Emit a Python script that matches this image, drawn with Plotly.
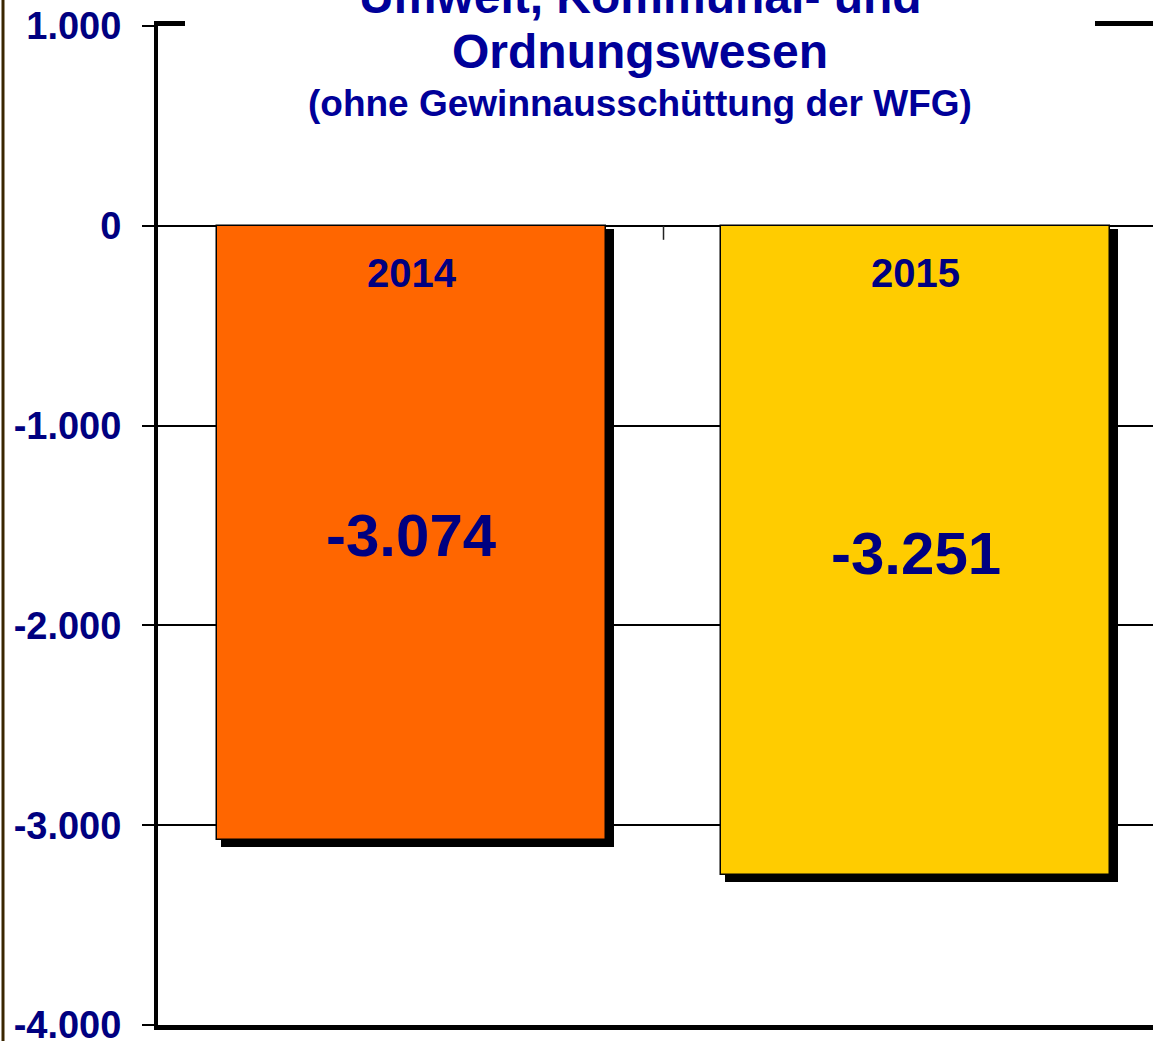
import plotly.graph_objects as go

# ---- data ----
categories = ["2014", "2015"]
values = [-3074, -3251]
bar_colors = ["#FF6600", "#FFCC00"]
tick_values = [1000, 0, -1000, -2000, -3000, -4000]
tick_labels = ["1.000", "0", "-1.000", "-2.000", "-3.000", "-4.000"]
title_lines = ["Umwelt, Kommunal- und", "Ordnungswesen"]
subtitle = "(ohne Gewinnausschüttung der WFG)"

NAVY = "#000080"
TITLE_BLUE = "#000099"
FONT = "Liberation Sans, Arial, sans-serif"

W, H = 1153, 1041
ML, MT, MB = 158, 26, 16
plot_w = W - ML
plot_h = H - MT - MB
cat_px = 504.0
x_range = [-0.503, -0.503 + plot_w / cat_px]
y_range = [-4000, 1000]
units_per_px = (y_range[1] - y_range[0]) / plot_h

xs = list(range(len(categories)))
bar_w = 0.77


def fmt(v):
    s = f"{abs(v):,}".replace(",", ".")
    return ("-" if v < 0 else "") + s


def px_to_paper_y(py):
    return (H - MB - py) / plot_h


def px_to_paper_x(px):
    return (px - ML) / plot_w


fig = go.Figure()

# shadow bars
fig.add_trace(go.Bar(
    x=xs, y=[v - 4 * units_per_px for v in values],
    base=-3 * units_per_px,
    width=bar_w + 4 / cat_px,
    offset=-bar_w / 2 + 4 / cat_px,
    marker=dict(color="black", line=dict(width=0)),
    hoverinfo="skip", showlegend=False,
))
# main bars
fig.add_trace(go.Bar(
    x=xs, y=values,
    width=bar_w,
    marker=dict(color=bar_colors, line=dict(color="black", width=1.5)),
    showlegend=False,
))

# category labels inside bar top
for xi, c in zip(xs, categories):
    fig.add_annotation(x=xi, y=-47 * units_per_px, text=f"<b>{c}</b>",
                       showarrow=False, yanchor="middle",
                       font=dict(family=FONT, size=40, color=NAVY))
# value labels in bar middle
for xi, v in zip(xs, values):
    fig.add_annotation(x=xi, y=v / 2 - 3 * units_per_px, text=f"<b>{fmt(v)}</b>",
                       showarrow=False, yanchor="middle",
                       font=dict(family=FONT, size=60, color=NAVY))

# title
cx = px_to_paper_x(640)
fig.add_annotation(xref="paper", yref="paper", x=cx, y=px_to_paper_y(-4),
                   text=f"<b>{title_lines[0]}</b>", showarrow=False,
                   xanchor="center", yanchor="middle",
                   font=dict(family=FONT, size=48, color=TITLE_BLUE))
fig.add_annotation(xref="paper", yref="paper", x=cx, y=px_to_paper_y(52),
                   text=f"<b>{title_lines[1]}</b>", showarrow=False,
                   xanchor="center", yanchor="middle",
                   font=dict(family=FONT, size=48, color=TITLE_BLUE))
fig.add_annotation(xref="paper", yref="paper", x=cx, y=px_to_paper_y(103),
                   text=f"<b>{subtitle}</b>", showarrow=False,
                   xanchor="center", yanchor="middle",
                   font=dict(family=FONT, size=37, color=TITLE_BLUE))

shapes = [
    # white box behind title, interrupting the top frame line
    dict(type="rect", xref="paper", yref="paper", layer="above",
         x0=px_to_paper_x(185), x1=px_to_paper_x(1095),
         y0=px_to_paper_y(34), y1=px_to_paper_y(0),
         fillcolor="white", line=dict(width=0)),
    # category divider tick on zero line
    dict(type="line", xref="x", yref="y", x0=0.5, x1=0.5,
         y0=0, y1=-14 * units_per_px, line=dict(color="#222", width=1.5)),
    # slide edge on the far left
    dict(type="line", xref="paper", yref="paper",
         x0=px_to_paper_x(3), x1=px_to_paper_x(3),
         y0=px_to_paper_y(-5), y1=px_to_paper_y(H + 5),
         line=dict(color="#3a2600", width=3)),
]

fig.update_layout(
    width=W, height=H,
    margin=dict(l=ML, r=0, t=MT, b=MB, pad=0, autoexpand=False),
    paper_bgcolor="white", plot_bgcolor="white",
    barmode="overlay", bargap=0,
    shapes=shapes,
    showlegend=False,
    font=dict(family=FONT),
    xaxis=dict(range=x_range, showticklabels=False, ticks="",
               showgrid=False, zeroline=False, automargin=False,
               showline=True, linecolor="black", linewidth=5, mirror=True),
    yaxis=dict(range=y_range, tickvals=tick_values,
               ticktext=[f"<b>{t}</b>" for t in tick_labels],
               tickfont=dict(family=FONT, size=38, color=NAVY),
               ticks="outside", ticklen=12, tickwidth=2, tickcolor="black",
               showgrid=True, gridcolor="black", gridwidth=1.5,
               zeroline=True, zerolinecolor="black", zerolinewidth=2,
               showline=True, linecolor="black", linewidth=4, mirror=False,
               automargin=False,
               ticklabelstandoff=13, ticklabeloverflow="allow"),
)

post = (
    "document.documentElement.style.margin='0';"
    "document.documentElement.style.overflow='hidden';"
    "document.body.style.margin='0';document.body.style.padding='0';"
    "document.body.style.overflow='hidden';"
)
fig.write_html("out.html", config={"displayModeBar": False}, post_script=post)
